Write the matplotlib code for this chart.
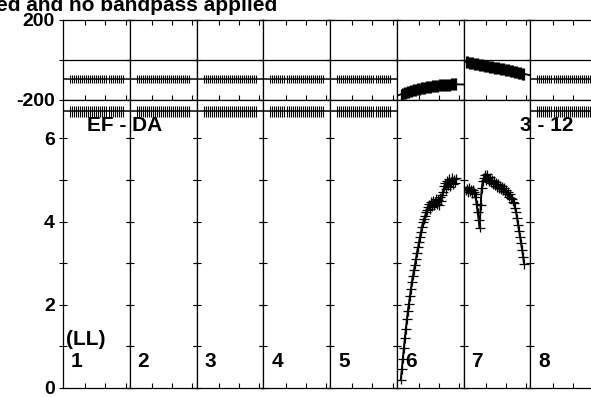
import numpy as np
import matplotlib
matplotlib.use('Agg')
import matplotlib.pyplot as plt

plt.rcParams['font.family'] = ['Liberation Sans', 'DejaVu Sans']
plt.rcParams['font.weight'] = 'bold'

# ---- data -------------------------------------------------------------
panel_labels = ['1', '2', '3', '4', '5', '6', '7', '8']
title = 'ed and no bandpass applied'
baseline_label = 'EF - DA'
time_label = '3 - 12'
pol_label = '(LL)'

# empty IFs: flat phase and clipped amplitude
empty_chan = np.arange(5, 58, 2)
empty_phase = -95.0
empty_amp = 6.65

# IF 6
if6_start = 2
if6_phase = [-174, -171, -169, -167, -165, -163, -161, -159, -158, -156,
             -155, -153, -152, -150, -149, -148, -147, -145, -144, -143,
             -142, -141, -140, -139, -138, -137, -136, -135, -134, -134,
             -133, -132, -131, -130, -130, -129, -128, -128, -127, -127,
             -126, -126, -125, -125, -124, -124, -124, -123, -123, -123,
             -122, -122, -122, -121, -121, -121]
if6_amp = [0.20, 0.45, 0.70, 0.95, 1.20, 1.42, 1.65, 1.85, 2.02, 2.20,
           2.38, 2.55, 2.70, 2.83, 2.96, 3.10, 3.25, 3.38, 3.50, 3.63,
           3.76, 3.88, 3.98, 4.06, 4.13, 4.22, 4.28, 4.36, 4.42, 4.30,
           4.48, 4.36, 4.50, 4.38, 4.47, 4.55, 4.42, 4.52, 4.40, 4.58,
           4.50, 4.65, 4.72, 4.85, 4.92, 4.78, 4.98, 4.86, 5.03, 4.84,
           4.97, 5.06, 4.90, 5.02, 4.93, 5.04]

# IF 7
if7_start = 0
if7_phase = [-10, -11, -12, -13, -14, -15, -16, -17, -18, -19, -20, -21,
             -22, -23, -24, -25, -26, -27, -28, -29, -30, -31,
             -32, -33, -34, -35, -36, -37, -38, -39, -40, -40,
             -41, -42, -43, -44, -45, -46, -47, -48, -49, -50,
             -51, -52, -53, -55, -56, -57, -58, -60, -61, -62,
             -63, -64, -66, -67, -68, -69, -70]
if7_amp = [4.75, 4.80, 4.70, 4.82, 4.72, 4.78, 4.68, 4.77, 4.70, 4.66,
           4.58, 4.42, 4.22, 4.05, 3.85, 4.40, 4.80, 4.97, 5.05, 5.12,
           5.00, 5.14, 5.04, 4.96, 5.07, 4.93, 5.01, 4.90, 4.98, 4.86,
           4.94, 4.83, 4.91, 4.80, 4.87, 4.78, 4.85, 4.74, 4.81, 4.70,
           4.76, 4.66, 4.71, 4.60, 4.66, 4.56, 4.55, 4.48, 4.45, 4.33,
           4.22, 4.08, 3.92, 3.78, 3.62, 3.48, 3.32, 3.15, 2.98]

# ---- layout ------------------------------------------------------------
W, H = 591, 397
fig = plt.figure(figsize=(W / 100, H / 100), dpi=100)

left_px, panel_px = 63, 66.75
ph_top, ph_bot, amp_bot = 20, 100, 388
px_per_amp = 41.6
xlim = (-2, 64)

def fx(px):
    return px / W

def fy(py):
    return 1 - py / H

tick_kw = dict(color='black', width=0.8)

for i in range(8):
    x0 = left_px + i * panel_px
    axp = fig.add_axes([fx(x0), fy(ph_bot), fx(panel_px), (ph_bot - ph_top) / H])
    axa = fig.add_axes([fx(x0), fy(amp_bot), fx(panel_px), (amp_bot - ph_bot) / H])

    for ax in (axp, axa):
        ax.set_xlim(*xlim)
        ax.set_xticks([20, 40, 60])
        ax.set_xticklabels([])
        for s in ax.spines.values():
            s.set_linewidth(0.9)
        ax.tick_params(axis='x', direction='in', length=3.5, top=True, bottom=True, **tick_kw)
        ax.tick_params(axis='y', direction='inout', length=6, left=True, right=True,
                       labelsize=14, pad=3, **tick_kw)

    axp.set_ylim(-200, 200)
    axp.set_yticks([-200, 0, 200])
    axp.axhline(0, color='black', lw=0.9)
    axa.set_ylim(0, (amp_bot - ph_bot) / px_per_amp)
    axa.set_yticks(range(7))
    axa.tick_params(axis='x', top=False)

    if i == 0:
        axp.set_yticklabels(['-200', '', '200'])
        axa.set_yticklabels(['0', '', '2', '', '4', '', '6'])
    else:
        axp.set_yticklabels([])
        axa.set_yticklabels([])

    xfit = np.linspace(*xlim, 50)
    if i == 5 or i == 6:
        ph = np.array(if6_phase if i == 5 else if7_phase, dtype=float)
        am = np.array(if6_amp if i == 5 else if7_amp, dtype=float)
        start = if6_start if i == 5 else if7_start
        ch_p = np.arange(start, start + len(ph))
        ch_a = np.arange(start, start + len(am))
        axp.errorbar(ch_p, ph, yerr=30, fmt='none', ecolor='black', elinewidth=0.9)
        coef = np.polyfit(ch_p, ph, 2)
        axp.plot(xfit, np.polyval(coef, xfit), color='black', lw=1.3)
        axa.errorbar(ch_a, am, yerr=0.11, xerr=5, fmt='none', ecolor='black', elinewidth=0.9)
        axa.plot(ch_a, am, color='black', lw=1.4)
    else:
        axp.errorbar(empty_chan, np.full(len(empty_chan), empty_phase), yerr=20,
                     fmt='none', ecolor='black', elinewidth=0.8)
        axp.axhline(empty_phase, color='black', lw=1.1)
        axa.errorbar(empty_chan, np.full(len(empty_chan), empty_amp), yerr=0.14,
                     fmt='none', ecolor='black', elinewidth=0.8, clip_on=False)
        axa.axhline(empty_amp, color='black', lw=1.1)

    fig.text(fx(x0 + 8), fy(367), panel_labels[i], fontsize=15, fontweight='bold',
             ha='left', va='baseline')

fig.text(fx(87), fy(131), baseline_label, fontsize=15, fontweight='bold', ha='left', va='baseline')
fig.text(fx(573), fy(131), time_label, fontsize=15, fontweight='bold', ha='right', va='baseline')
fig.text(fx(66), fy(345), pol_label, fontsize=15, fontweight='bold', ha='left', va='baseline')
fig.text(fx(277), fy(11), title, fontsize=15, fontweight='bold', ha='right', va='baseline')

fig.savefig('out.png', dpi=100)
